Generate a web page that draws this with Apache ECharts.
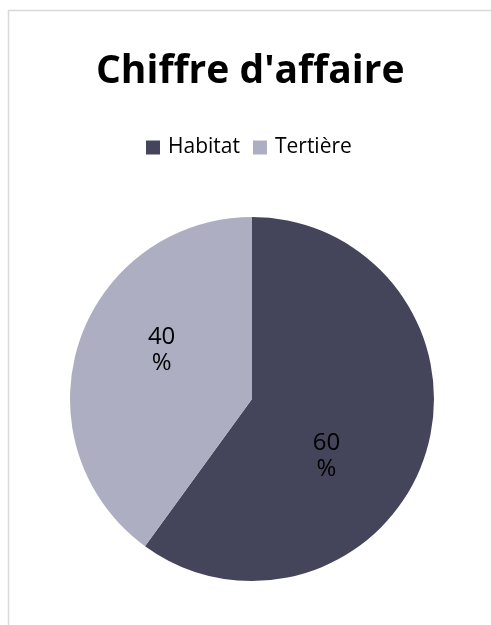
<!DOCTYPE html>
<html>
<head>
<meta charset="utf-8">
<script src="https://cdn.jsdelivr.net/npm/echarts@6/dist/echarts.min.js"></script>
<style>
html,body{margin:0;padding:0;background:#fff;}
#c{width:491px;height:625px;}
</style>
</head>
<body>
<div id="c"></div>
<script>
var titleText = "Chiffre d'affaire";
var categories = ['Habitat', 'Tertière'];
var values = [60, 40];
var colors = ['#44455a', '#adaec1'];
var labelOffsets = [[-15, 28], [-1, -20]];

var chart = echarts.init(document.getElementById('c'));
chart.setOption({
  animation: false,
  backgroundColor: '#ffffff',
  graphic: [{
    type: 'rect',
    shape: {x: 8.5, y: 10.5, width: 700, height: 800},
    style: {fill: 'none', stroke: '#d9d9d9', lineWidth: 1.5},
    silent: true
  }],
  title: {
    text: titleText,
    left: 91,
    top: 47,
    textStyle: {fontFamily: 'Open Sans', fontWeight: 'bold', fontSize: 39, color: '#000'}
  },
  legend: {
    data: categories,
    left: 141,
    top: 132,
    icon: 'rect',
    itemWidth: 14,
    itemHeight: 14,
    itemGap: 13,
    textStyle: {fontFamily: 'Open Sans', fontSize: 21, color: '#000', padding: [0, 0, 0, 3]}
  },
  series: [{
    type: 'pie',
    center: [252, 399],
    radius: 182,
    startAngle: 90,
    clockwise: true,
    avoidLabelOverlap: false,
    label: {
      show: true,
      position: 'inside',
      formatter: '{c}\n%',
      fontFamily: 'Open Sans',
      fontSize: 24,
      lineHeight: 26,
      color: '#000'
    },
    labelLine: {show: false},
    itemStyle: {borderWidth: 0},
    data: categories.map(function (n, i) {
      return {name: n, value: values[i], itemStyle: {color: colors[i]}, label: {offset: labelOffsets[i]}};
    })
  }]
});
</script>
</body>
</html>
